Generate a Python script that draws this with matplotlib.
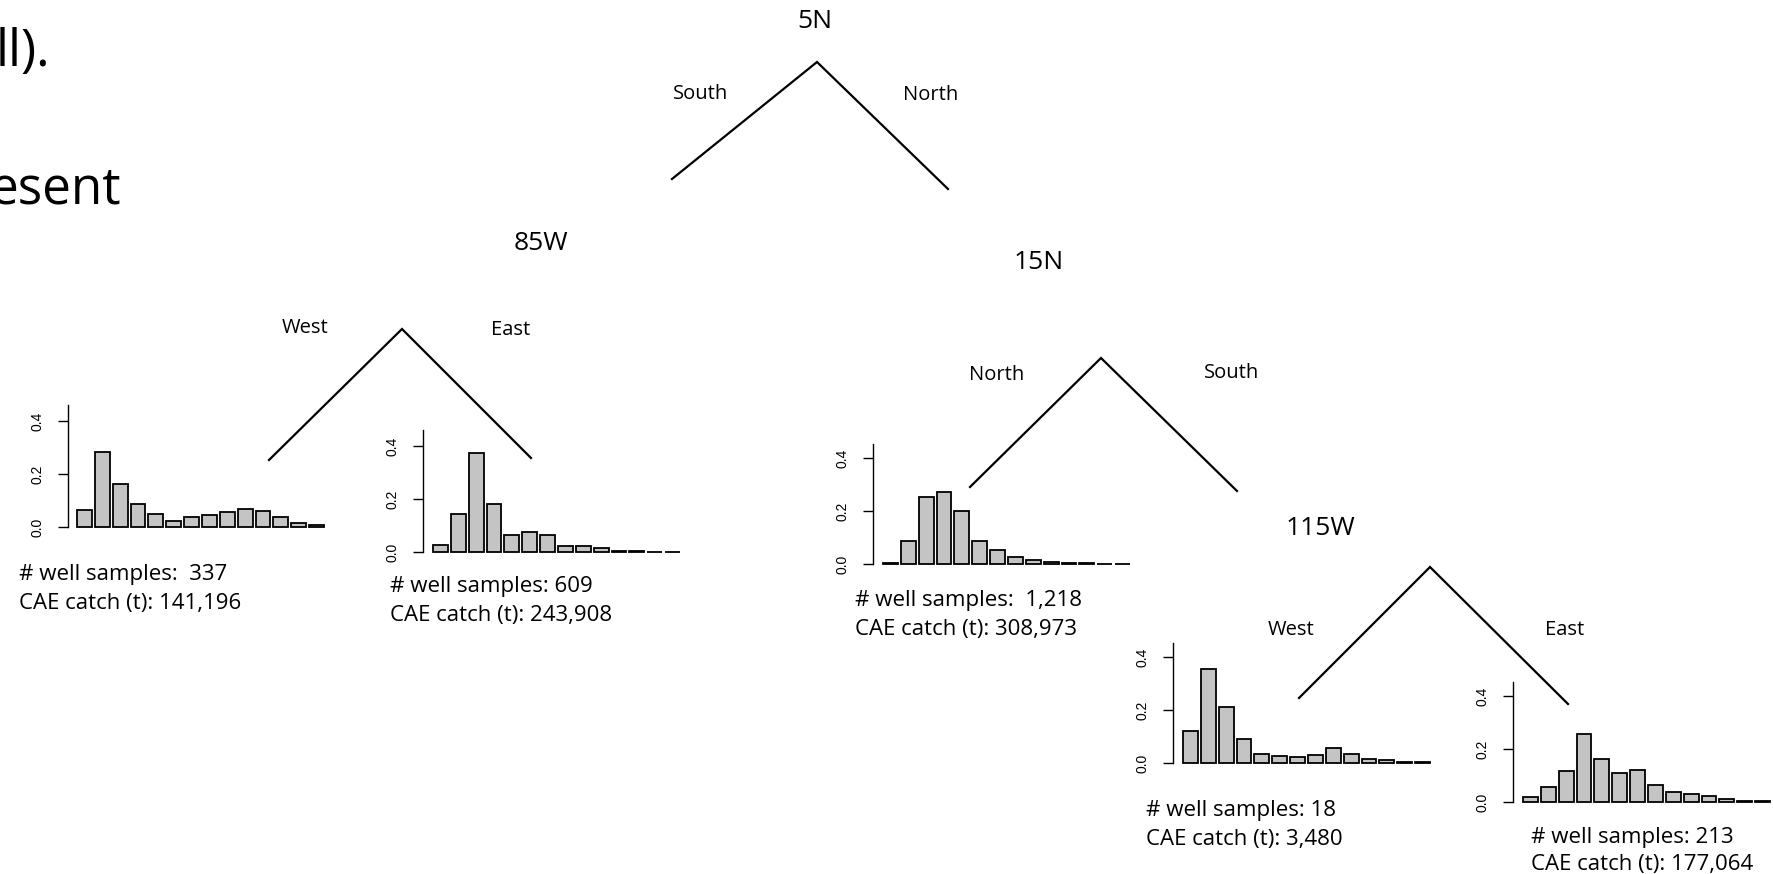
import matplotlib
matplotlib.use("Agg")
import matplotlib.pyplot as plt

W, H = 1774, 874

# ---- data -------------------------------------------------------------
bins = list(range(1, 15))
ytick_vals = [0.0, 0.2, 0.4]
ytick_labels = ["0.0", "0.2", "0.4"]

vals_85W_west = [0.063, 0.282, 0.164, 0.086, 0.050, 0.021, 0.038, 0.045,
                 0.055, 0.069, 0.060, 0.036, 0.014, 0.006]
vals_85W_east = [0.026, 0.143, 0.375, 0.181, 0.064, 0.075, 0.064, 0.021,
                 0.024, 0.015, 0.005, 0.004, 0.001, 0.0005]
vals_15N_north = [0.005, 0.086, 0.254, 0.273, 0.201, 0.087, 0.052, 0.028,
                  0.014, 0.009, 0.005, 0.003, 0.001, 0.001]
vals_115W_west = [0.119, 0.355, 0.210, 0.090, 0.0325, 0.0275, 0.021, 0.030,
                  0.055, 0.0325, 0.016, 0.011, 0.005, 0.0025]
vals_115W_east = [0.019, 0.058, 0.117, 0.256, 0.164, 0.110, 0.121, 0.066,
                  0.038, 0.029, 0.021, 0.013, 0.005, 0.0025]

well_samples = ["# well samples:  337", "# well samples: 609",
                "# well samples:  1,218", "# well samples: 18",
                "# well samples: 213"]
cae_catch = ["CAE catch (t): 141,196", "CAE catch (t): 243,908",
             "CAE catch (t): 308,973", "CAE catch (t): 3,480",
             "CAE catch (t): 177,064"]

node_labels = ["5N", "85W", "15N", "115W"]
branch_left = ["South", "West", "North", "West"]
branch_right = ["North", "East", "South", "East"]

# ---- layout (pixels; text y = baseline) --------------------------------
node_pos = [(815, 28), (541, 250), (1039, 269), (1320, 535)]
# apex, left end, right end
trees = [((817, 62), (672, 179), (948, 189)),
         ((402, 329), (269, 460), (531, 458)),
         ((1101, 358), (970, 487), (1237, 491)),
         ((1430, 567), (1299, 698), (1568, 704))]
bl_pos = [(701, 99), (305, 333), (997, 380), (1291, 635)]
br_pos = [(931, 100), (511, 335), (1232, 378), (1565, 635)]

# spine_x, first bar left, last bar right, baseline y, top y
panels = [(68, 77, 324, 527, 405),
          (423, 433, 680, 552, 430),
          (873, 883, 1130, 564, 444),
          (1173, 1183, 1430, 763, 643),
          (1513, 1523, 1770, 802, 682)]
panel_vals = [vals_85W_west, vals_85W_east, vals_15N_north,
              vals_115W_west, vals_115W_east]
text_pos = [(19, 580, 609), (390, 592, 621), (855, 606, 635),
            (1146, 816, 845), (1531, 843, 870)]

FONT = "Open Sans"

fig = plt.figure(figsize=(W / 100, H / 100), dpi=100)
fig.patch.set_facecolor("white")
bg = fig.add_axes([0, 0, 1, 1])
bg.set_xlim(0, W)
bg.set_ylim(H, 0)
bg.axis("off")

# partial slide text at left (cut off at the edge, as in the source slide)
bg.text(50, 66, "ll).", fontsize=37, family=FONT, ha="right", va="baseline")
bg.text(121, 204, "esent", fontsize=37, family=FONT, ha="right", va="baseline")

# tree
for lab, (x, y) in zip(node_labels, node_pos):
    bg.text(x, y, lab, fontsize=19, family=FONT, ha="center", va="baseline")
for (apex, le, re) in trees:
    bg.plot([le[0], apex[0], re[0]], [le[1], apex[1], re[1]],
            color="black", lw=1.6, solid_joinstyle="miter")
for lab, (x, y) in zip(branch_left, bl_pos):
    bg.text(x, y, lab, fontsize=14.5, family=FONT, ha="center", va="baseline")
for lab, (x, y) in zip(branch_right, br_pos):
    bg.text(x, y, lab, fontsize=14.5, family=FONT, ha="center", va="baseline")

# histograms
BW = 0.83
YPX = 106 / 0.4
for (sx, fs, le_, by, ty), vals in zip(panels, panel_vals):
    n = len(vals)
    ppu = (le_ - fs) / (n - 1 + BW)
    x0 = -BW / 2 - (fs - sx) / ppu
    right_px = le_ + 2
    x1 = (n - 1) + BW / 2 + 2 / ppu
    ax = fig.add_axes([sx / W, 1 - by / H, (right_px - sx) / W, (by - ty) / H])
    ax.patch.set_visible(False)
    ax.set_xlim(x0, x1)
    ax.set_ylim(0, (by - ty) / YPX)
    xs = [b - 1 for b in bins]
    ax.bar(xs, vals, width=BW, color="#c4c4c4", edgecolor="black",
           linewidth=1.3, clip_on=False)
    for s in ("top", "right", "bottom"):
        ax.spines[s].set_visible(False)
    ax.spines["left"].set_linewidth(1.0)
    ax.set_xticks([])
    ax.set_yticks(ytick_vals)
    ax.set_yticklabels(ytick_labels, rotation=90, va="center",
                       family="Liberation Sans", fontsize=10)
    ax.tick_params(axis="y", length=7, width=1.0, pad=10)

for (x, y1, y2), s1, s2 in zip(text_pos, well_samples, cae_catch):
    bg.text(x, y1, s1, fontsize=16, family=FONT, ha="left", va="baseline")
    bg.text(x, y2, s2, fontsize=16, family=FONT, ha="left", va="baseline")

fig.savefig("out.png", dpi=100, facecolor="white")
